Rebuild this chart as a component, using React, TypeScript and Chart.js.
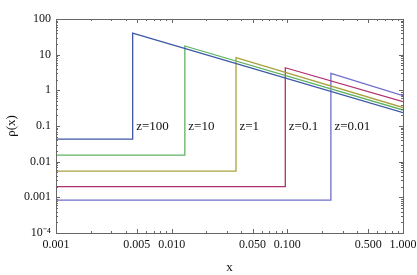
import React, { useEffect, useRef } from "react";
import { Chart, registerables } from "chart.js";

Chart.register(...registerables);

// ---- data ----
const xStart = 0.001;
const xEnd = 1;
const seriesNames = ["z=100", "z=10", "z=1", "z=0.1", "z=0.01"];
const stepX = [0.0046, 0.013, 0.036, 0.096, 0.238];
const lowLevel = [0.043, 0.0152, 0.0054, 0.002, 0.00083];
const peakLevel = [40, 17.5, 8.3, 4.3, 3.0];
const endLevel = [0.237, 0.28, 0.33, 0.48, 0.71];
const seriesColors = ["#3d58a6", "#5fb464", "#aaa23f", "#b0306e", "#6f6fcb"];
const labelBaseline = 0.078;
const xTicks = [0.001, 0.005, 0.01, 0.05, 0.1, 0.5, 1];
const xTickLabels = ["0.001", "0.005", "0.010", "0.050", "0.100", "0.500", "1.000"];
const yTicks = [1e-4, 1e-3, 1e-2, 0.1, 1, 10, 100];
const yTickLabels = ["10⁻⁴", "0.001", "0.01", "0.1", "1", "10", "100"];

const FONT = "'Liberation Serif', 'Times New Roman', serif";
const FRAME = "#666666";

const framePlugin = {
  id: "frameTicks",
  afterDatasetsDraw(chart: any) {
    const { ctx, chartArea } = chart;
    const xs = chart.scales.x;
    const ys = chart.scales.y;
    const { left, right, top, bottom } = chartArea;
    ctx.save();
    ctx.strokeStyle = FRAME;
    ctx.lineWidth = 1;
    ctx.strokeRect(Math.round(left) + 0.5, Math.round(top) + 0.5, Math.round(right - left), Math.round(bottom - top));
    ctx.beginPath();
    for (let e = -3; e <= 0; e++) {
      for (let m = 1; m <= 9; m++) {
        const v = m * Math.pow(10, e);
        if (v < xs.min * 0.999 || v > xs.max * 1.001) continue;
        const major = xTicks.some((t) => Math.abs(t - v) / t < 1e-6);
        const len = major ? 4 : 2;
        const px = Math.round(xs.getPixelForValue(v)) + 0.5;
        ctx.moveTo(px, bottom);
        ctx.lineTo(px, bottom - len);
        ctx.moveTo(px, top);
        ctx.lineTo(px, top + len);
      }
    }
    for (let e = -4; e <= 2; e++) {
      for (let m = 1; m <= 9; m++) {
        const v = m * Math.pow(10, e);
        if (v < ys.min * 0.999 || v > ys.max * 1.001) continue;
        const len = m === 1 ? 4 : 2;
        const py = Math.round(ys.getPixelForValue(v)) + 0.5;
        ctx.moveTo(left, py);
        ctx.lineTo(left + len, py);
        ctx.moveTo(right, py);
        ctx.lineTo(right - len, py);
      }
    }
    ctx.stroke();

    ctx.fillStyle = "#111";
    ctx.font = `13px ${FONT}`;
    ctx.textAlign = "left";
    ctx.textBaseline = "alphabetic";
    seriesNames.forEach((name, i) => {
      const px = xs.getPixelForValue(stepX[i]) + 3.5;
      const py = ys.getPixelForValue(labelBaseline);
      ctx.fillText(name, px, py);
    });
    ctx.restore();
  },
};

export default function App() {
  const ref = useRef<HTMLCanvasElement | null>(null);

  useEffect(() => {
    document.body.style.margin = "0";
    const canvas = ref.current;
    if (!canvas) return;

    const datasets = seriesNames.map((name, i) => ({
      label: name,
      data: [
        { x: xStart, y: lowLevel[i] },
        { x: stepX[i], y: lowLevel[i] },
        { x: stepX[i], y: peakLevel[i] },
        { x: xEnd, y: endLevel[i] },
      ],
      borderColor: seriesColors[i],
      backgroundColor: seriesColors[i],
      borderWidth: 1.3,
      pointRadius: 0,
      tension: 0,
      fill: false,
    }));

    const chart = new Chart(canvas, {
      type: "line",
      data: { datasets },
      options: {
        responsive: false,
        animation: false,
        layout: { padding: { top: 19, right: 14, left: 0, bottom: 0 } },
        plugins: { legend: { display: false }, tooltip: { enabled: false } },
        scales: {
          x: {
            type: "logarithmic",
            min: 0.001,
            max: 1,
            grid: { display: false, drawTicks: false },
            border: { display: false },
            afterBuildTicks: (s: any) => {
              s.ticks = xTicks.map((v) => ({ value: v }));
            },
            afterFit: (s: any) => {
              s.height = 42;
              s.paddingLeft = 0;
              s.paddingRight = 0;
            },
            ticks: {
              autoSkip: false,
              maxRotation: 0,
              padding: 5,
              color: "#111",
              font: { family: FONT, size: 12 },
              callback: (_v: any, i: number) => xTickLabels[i],
            },
            title: {
              display: true,
              text: "x",
              color: "#111",
              font: { family: FONT, size: 13 },
              padding: { top: 0, bottom: 0 },
            },
          },
          y: {
            type: "logarithmic",
            min: 1e-4,
            max: 100,
            grid: { display: false, drawTicks: false },
            border: { display: false },
            afterBuildTicks: (s: any) => {
              s.ticks = yTicks.map((v) => ({ value: v }));
            },
            afterFit: (s: any) => {
              s.width = 56;
              s.paddingTop = 0;
              s.paddingBottom = 0;
            },
            ticks: {
              autoSkip: false,
              padding: 5,
              color: "#111",
              font: { family: FONT, size: 12 },
              callback: (_v: any, i: number) => yTickLabels[i],
            },
            title: {
              display: true,
              text: "ρ(x)",
              color: "#111",
              font: { family: FONT, size: 13 },
              padding: { top: 4, bottom: 0 },
            },
          },
        },
      },
      plugins: [framePlugin],
    });

    return () => chart.destroy();
  }, []);

  return <canvas ref={ref} width={417} height={275} style={{ display: "block" }} />;
}
